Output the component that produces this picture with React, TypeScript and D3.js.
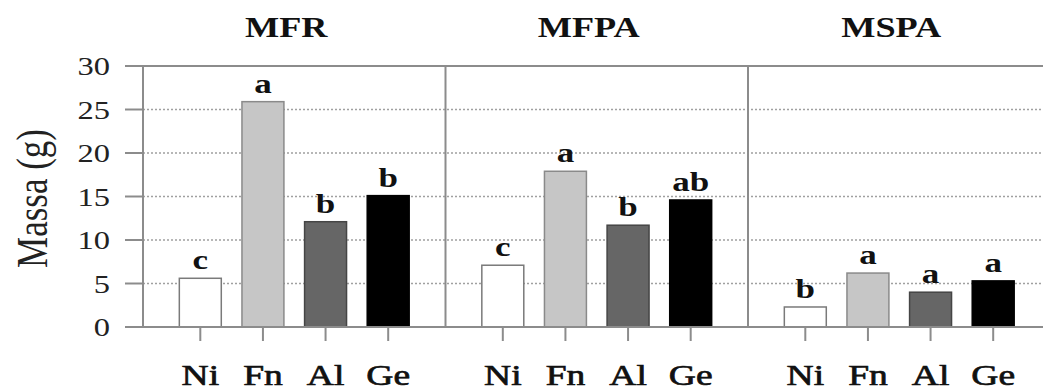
import React from 'react';
import * as d3 from 'd3';

const panels = ['MFR', 'MFPA', 'MSPA'];
const categories = ['Ni', 'Fn', 'Al', 'Ge'];
const mfrValues = [5.6, 25.9, 12.1, 15.1];
const mfpaValues = [7.1, 17.9, 11.7, 14.6];
const mspaValues = [2.3, 6.2, 4.0, 5.3];
const mfrLetters = ['c', 'a', 'b', 'b'];
const mfpaLetters = ['c', 'a', 'b', 'ab'];
const mspaLetters = ['b', 'a', 'a', 'a'];
const yTicks = [0, 5, 10, 15, 20, 25, 30];
const yLabel = 'Massa (g)';

const series = [
  { values: mfrValues, letters: mfrLetters },
  { values: mfpaValues, letters: mfpaLetters },
  { values: mspaValues, letters: mspaLetters },
];

const fills = ['#ffffff', '#c6c6c6', '#666666', '#000000'];
const strokes = ['#7a7a7a', '#8a8a8a', '#454545', '#000000'];

const W = 1043;
const H = 392;
const left = 143;
const panelW = 302.5;
const top = 66;
const bottom = 327;
const font = 'Liberation Serif';
const sx = 1.25; // picture is stretched horizontally

export default function App() {
  const y = d3.scaleLinear().domain([0, 30]).range([bottom, top]);
  const px = d3.scaleBand<string>().domain(panels).range([left, left + panelW * 3]);
  const x = d3
    .scaleBand<string>()
    .domain(categories)
    .range([0, panelW])
    .paddingInner(0.33)
    .paddingOuter(0.58);

  const axisColor = '#8c8c8c';
  const txt = { fontFamily: font };

  return (
    <svg
      width={W}
      height={H}
      style={{ position: 'absolute', left: 0, top: 0, background: '#fff', fontFamily: font }}
    >
      {/* gridlines */}
      {yTicks.filter((t) => t > 0 && t < 30).map((t) => (
        <line
          key={'g' + t}
          x1={left}
          x2={W}
          y1={y(t)}
          y2={y(t)}
          stroke="#a0a0a0"
          strokeWidth={1.5}
          strokeDasharray="2,2"
        />
      ))}

      {/* y ticks + labels */}
      {yTicks.map((t) => (
        <g key={'t' + t}>
          <line x1={125} x2={left} y1={y(t)} y2={y(t)} stroke={axisColor} strokeWidth={2} />
          <text
            transform={`translate(110,${y(t) + 9}) scale(${sx},1)`}
            textAnchor="end"
            fontSize={26}
            fill="#222"
            style={txt}
          >
            {t}
          </text>
        </g>
      ))}

      <text
        transform={`translate(47,${(top + bottom) / 2 + 2}) scale(${sx},1) rotate(-90)`}
        textAnchor="middle"
        fontSize={35}
        fill="#222"
        style={txt}
      >
        {yLabel}
      </text>

      {panels.map((p, i) => {
        const x0 = px(p)!;
        const s = series[i];
        return (
          <g key={p}>
            <text
              transform={`translate(${x0 + panelW / 2 - 8},37) scale(${sx},1)`}
              textAnchor="middle"
              fontSize={29}
              fontWeight="bold"
              fill="#111"
              style={txt}
            >
              {p}
            </text>
            {categories.map((c, j) => {
              const bx = x0 + x(c)!;
              const bw = x.bandwidth();
              const v = s.values[j];
              const cx = bx + bw / 2;
              return (
                <g key={c}>
                  <rect
                    x={bx}
                    y={y(v)}
                    width={bw}
                    height={bottom - y(v)}
                    fill={fills[j]}
                    stroke={strokes[j]}
                    strokeWidth={1.5}
                  />
                  <text
                    transform={`translate(${cx},${y(v) - 9}) scale(${sx},1)`}
                    textAnchor="middle"
                    fontSize={28}
                    fontWeight="bold"
                    fill="#111"
                    style={txt}
                  >
                    {s.letters[j]}
                  </text>
                  <line x1={cx} x2={cx} y1={bottom} y2={bottom + 14} stroke={axisColor} strokeWidth={2} />
                  <text
                    transform={`translate(${cx},385) scale(${sx},1)`}
                    textAnchor="middle"
                    fontSize={30}
                    fill="#111"
                    stroke="#111"
                    strokeWidth={0.7}
                    style={txt}
                  >
                    {c}
                  </text>
                </g>
              );
            })}
            {i > 0 && (
              <line x1={x0} x2={x0} y1={top} y2={bottom} stroke={axisColor} strokeWidth={2} />
            )}
          </g>
        );
      })}

      {/* frame */}
      <line x1={left} x2={left} y1={top} y2={bottom} stroke={axisColor} strokeWidth={2} />
      <line x1={125} x2={W} y1={top} y2={top} stroke={axisColor} strokeWidth={2} />
      <line x1={125} x2={W} y1={bottom} y2={bottom} stroke={axisColor} strokeWidth={2} />
    </svg>
  );
}
